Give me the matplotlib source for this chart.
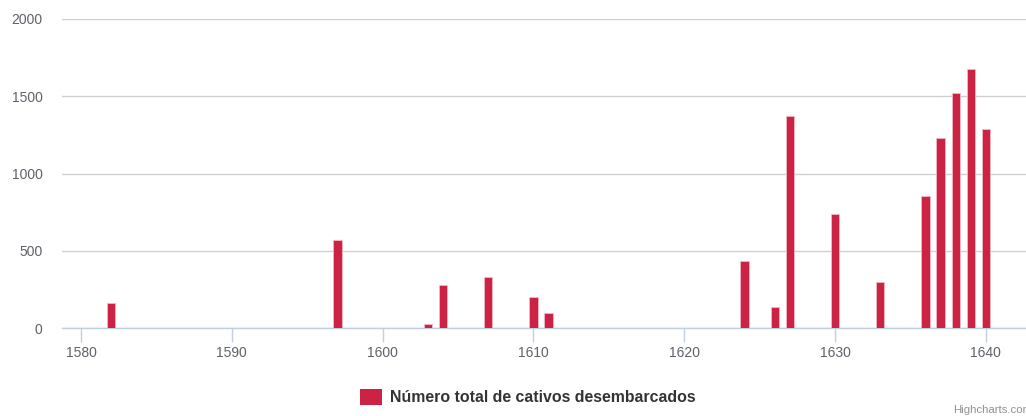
import matplotlib
matplotlib.use("Agg")
import matplotlib.pyplot as plt
from matplotlib.patches import Patch

plt.rcParams['font.family'] = ['Liberation Sans', 'DejaVu Sans']

# anos e numero total de cativos desembarcados
years = [1582, 1597, 1603, 1604, 1607, 1610, 1611, 1624, 1626, 1627,
         1630, 1633, 1636, 1637, 1638, 1639, 1640]
captives = [160, 572, 26, 277, 330, 201, 98, 432, 137, 1374,
            735, 295, 857, 1228, 1520, 1677, 1289]

series_name = "Número total de cativos desembarcados"
x_ticks = [1580, 1590, 1600, 1610, 1620, 1630, 1640]
y_ticks = [0, 500, 1000, 1500, 2000]

bar_color = '#cc2244'

fig = plt.figure(figsize=(10.26, 4.16), dpi=100)
ax = fig.add_axes([62/1026, 88/416, 964/1026, 309/416])

ax.bar(years, captives, width=0.55, color=bar_color,
       edgecolor='#f0b8c4', linewidth=0.6, zorder=3)

ax.set_xlim(1578.74, 1642.66)
ax.set_ylim(0, 2000)

ax.set_yticks(y_ticks)
ax.set_yticklabels([str(v) for v in y_ticks])
ax.set_xticks(x_ticks)
ax.set_xticklabels([str(v) for v in x_ticks])

ax.grid(axis='y', color='#d0d0d0', linewidth=1, zorder=0)
ax.tick_params(axis='y', length=0, pad=14, labelsize=10, labelcolor='#606068')
ax.tick_params(axis='x', length=10, width=1, color='#c0d0e0', pad=3,
               labelsize=10, labelcolor='#606068')

for side in ['top', 'right', 'left']:
    ax.spines[side].set_visible(False)
ax.spines['bottom'].set_color('#c0d0e0')
ax.spines['bottom'].set_linewidth(1)

handle = Patch(facecolor=bar_color, edgecolor='none')
fig.legend([handle], [series_name], loc='center', bbox_to_anchor=(528/1026, 1 - 397/416),
           frameon=False, handlelength=1.4, handleheight=1.2, handletextpad=0.5,
           prop={'size': 11.4, 'weight': 'bold'}, labelcolor='#333333')

fig.text(953/1026, 1 - 410/416, "Highcharts.com", fontsize=8.2, color='#909090',
         ha='left', va='center')

fig.savefig("out.png", dpi=100)
